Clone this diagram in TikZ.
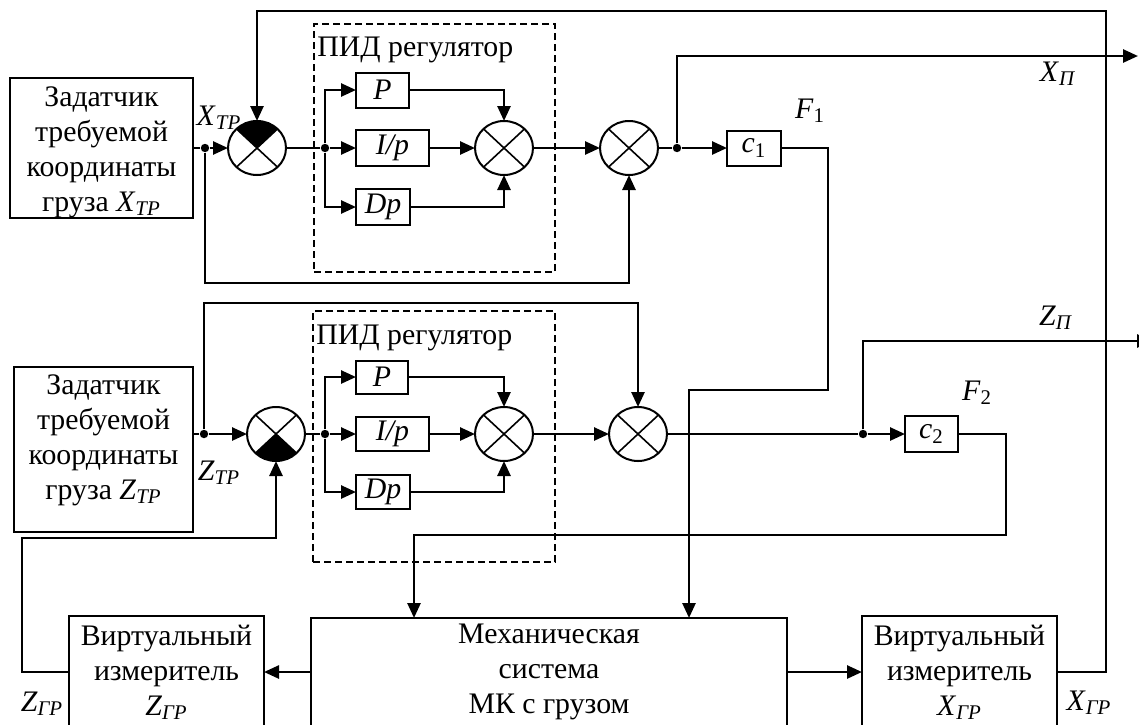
\documentclass[tikz,border=0pt]{standalone}
\usepackage{fontspec}
\setmainfont{Liberation Serif}
\usetikzlibrary{arrows.meta,shapes.geometric}
\newcommand{\vr}[2]{\textit{#1}\textsubscript{\textit{#2}}}
\begin{document}
\begin{tikzpicture}[x=0.5pt,y=-0.5pt, font=\fontsize{14.9}{17.5}\selectfont,
 blk/.style={draw, line width=1pt, inner sep=0pt, outer sep=0pt},
 txt/.style={align=center, inner sep=0pt},
 lbl/.style={inner sep=0pt},
 sumn/.style={draw, ellipse, line width=1pt, minimum width=29pt, minimum height=27pt, inner sep=0pt, outer sep=0pt},
 ln/.style={line width=1.3pt},
 thinln/.style={line width=0.7pt},
 crs/.style={line width=0.8pt},
 arr/.style={line width=1.3pt, -{Triangle[length=7.5pt,width=6.5pt]}},
 dot/.style={circle, fill, inner sep=0pt, minimum size=4.2pt},
 pid/.style={draw, line width=0.9pt, dash pattern=on 3.5pt off 2pt, inner sep=0pt}]
\useasboundingbox (0,0) rectangle (1139,724);
\clip (0,0) rectangle (1139,724);

% ---------- X channel ----------
\node[blk, minimum width=91.5pt, minimum height=70pt] (zx) at (101.5,148) {};
\node[txt] (zxt) at (101.5,152) {Задатчик\\требуемой\\координаты\\груза \vr{X}{ТР}};
\node[pid, minimum width=120.5pt, minimum height=124pt] (pidx) at (434.5,148) {};
\node[lbl, anchor=west] (pidxt) at (317,50) {ПИД регулятор};
\node[sumn] (s1) at (257,148) {};
\node[sumn] (s2) at (504,148) {};
\node[sumn] (s3) at (629,148) {};
\foreach \s in {s1,s2,s3}{\draw[crs] (\s.north east) -- (\s.south west) (\s.north west) -- (\s.south east);}
\fill (s1.center) -- (s1.north west) arc[start angle=225, end angle=315, x radius=29, y radius=27] -- cycle;
\node[blk, minimum width=26.5pt, minimum height=17.5pt] (p1) at (382.5,90) {\textit{P}};
\node[blk, minimum width=36.5pt, minimum height=18pt] (i1) at (392.5,148) {\textit{I/p}};
\node[blk, minimum width=27pt, minimum height=18pt] (d1) at (383,207) {\textit{Dp}};
\node[blk, minimum width=27pt, minimum height=17.5pt] (c1) at (754,148) {\textit{c}\textsubscript{1}};
\node[dot] (j1) at (205,148) {};
\node[dot] (jp1) at (325,148) {};
\node[dot] (jx) at (677,148) {};
\node[lbl] (xtr) at (219,118) {\vr{X}{ТР}};
\node[lbl] (xpl) at (1058,74) {\vr{X}{П}};
\node[lbl] (f1l) at (810,111) {\textit{F}\textsubscript{1}};

% ---------- Z channel ----------
\node[blk, minimum width=89.5pt, minimum height=82.5pt] (zz) at (103.5,449.5) {};
\node[txt] (zzt) at (103.5,440) {Задатчик\\требуемой\\координаты\\груза \vr{Z}{ТР}};
\node[pid, minimum width=121pt, minimum height=125.5pt] (pidz) at (434,436.5) {};
\node[lbl, anchor=west] (pidzt) at (316,338) {ПИД регулятор};
\node[sumn] (z1) at (276,434) {};
\node[sumn] (z2) at (504,434) {};
\node[sumn] (z3) at (638,434) {};
\foreach \s in {z1,z2,z3}{\draw[crs] (\s.north east) -- (\s.south west) (\s.north west) -- (\s.south east);}
\fill (z1.center) -- (z1.south east) arc[start angle=45, end angle=135, x radius=29, y radius=27] -- cycle;
\node[blk, minimum width=26pt, minimum height=16.5pt] (p2) at (382,377) {\textit{P}};
\node[blk, minimum width=36.5pt, minimum height=17pt] (i2) at (392.5,434) {\textit{I/p}};
\node[blk, minimum width=27pt, minimum height=17pt] (d2) at (383,492) {\textit{Dp}};
\node[blk, minimum width=26.5pt, minimum height=18pt] (c2) at (931.5,434) {\textit{c}\textsubscript{2}};
\node[dot] (j2) at (204,434) {};
\node[dot] (jp2) at (325,434) {};
\node[dot] (jz) at (863,434) {};
\node[lbl] (ztr) at (219,473) {\vr{Z}{ТР}};
\node[lbl] (zpl) at (1056,318) {\vr{Z}{П}};
\node[lbl] (f2l) at (977,393) {\textit{F}\textsubscript{2}};

% ---------- bottom ----------
\node[blk, minimum width=97.5pt, minimum height=56pt, align=center] (vz) at (166.5,672) {Виртуальный\\измеритель\\\vr{Z}{ГР}};
\node[blk, minimum width=238pt, minimum height=54pt, align=center] (mech) at (549,672) {Механическая\\система\\МК с грузом};
\node[blk, minimum width=97.5pt, minimum height=56pt, align=center] (vx) at (959.5,672) {Виртуальный\\измеритель\\\vr{X}{ГР}};
\node[lbl] (zgr) at (42,704) {\vr{Z}{ГР}};
\node[lbl] (xgr) at (1089,703) {\vr{X}{ГР}};

% ---------- connectors X ----------
\draw[ln] (zx.east) -- (j1);
\draw[arr] (j1) -- (s1.west);
\coordinate (fb1) at (629,283);
\draw[arr] (j1) |- (fb1) -- (s3.south);
\coordinate (tr) at (1106,11);
\draw[arr] (vx.east) -| (tr) -| (s1.north);
\draw[ln] (s1.east) -- (jp1);
\draw[arr] (jp1) -- (i1.west);
\draw[arr] (jp1) |- (p1.west);
\draw[arr] (jp1) |- (d1.west);
\draw[arr] (p1.east) -| (s2.north);
\draw[arr] (i1.east) -- (s2.west);
\draw[arr] (d1.east) -| (s2.south);
\coordinate (b1) at (555,148);
\draw[thinln] (s2.east) -- (b1);
\draw[arr] (b1) -- (s3.west);
\draw[ln] (s3.east) -- (jx);
\draw[arr] (jx) -- (c1.west);
\coordinate (xp) at (1138,56);
\draw[arr] (jx) |- (xp);
\coordinate (c1a) at (828,390);
\coordinate (c1b) at (689,390);
\draw[arr] (c1.east) -| (c1a) -- (c1b) -- (c1b |- mech.north);

% ---------- connectors Z ----------
\draw[ln] (zz.east |- j2) -- (j2);
\draw[arr] (j2) -- (z1.west);
\coordinate (fb2) at (638,303);
\draw[arr] (j2) |- (fb2) -- (z3.north);
\coordinate (fz1) at (22,538);
\coordinate (fz2) at (276,538);
\draw[arr] (vz.west) -| (fz1) -- (fz2) -- (z1.south);
\draw[ln] (z1.east) -- (jp2);
\draw[arr] (jp2) -- (i2.west);
\draw[arr] (jp2) |- (p2.west);
\draw[arr] (jp2) |- (d2.west);
\draw[arr] (p2.east) -| (z2.north);
\draw[arr] (i2.east) -- (z2.west);
\draw[arr] (d2.east) -| (z2.south);
\coordinate (b2) at (555,434);
\draw[thinln] (z2.east) -- (b2);
\draw[arr] (b2) -- (z3.west);
\coordinate (b3) at (787,434);
\draw[thinln] (z3.east) -- (b3);
\draw[ln] (b3) -- (jz);
\draw[arr] (jz) -- (c2.west);
\coordinate (zp) at (1152,341);
\draw[arr] (jz) |- (zp);
\coordinate (c2a) at (1006,535);
\coordinate (c2b) at (414,535);
\draw[arr] (c2.east) -| (c2a) -- (c2b) -- (c2b |- mech.north);

% ---------- bottom connectors ----------
\draw[arr] (mech.west) -- (vz.east);
\draw[arr] (mech.east) -- (vx.west);
\end{tikzpicture}
\end{document}
